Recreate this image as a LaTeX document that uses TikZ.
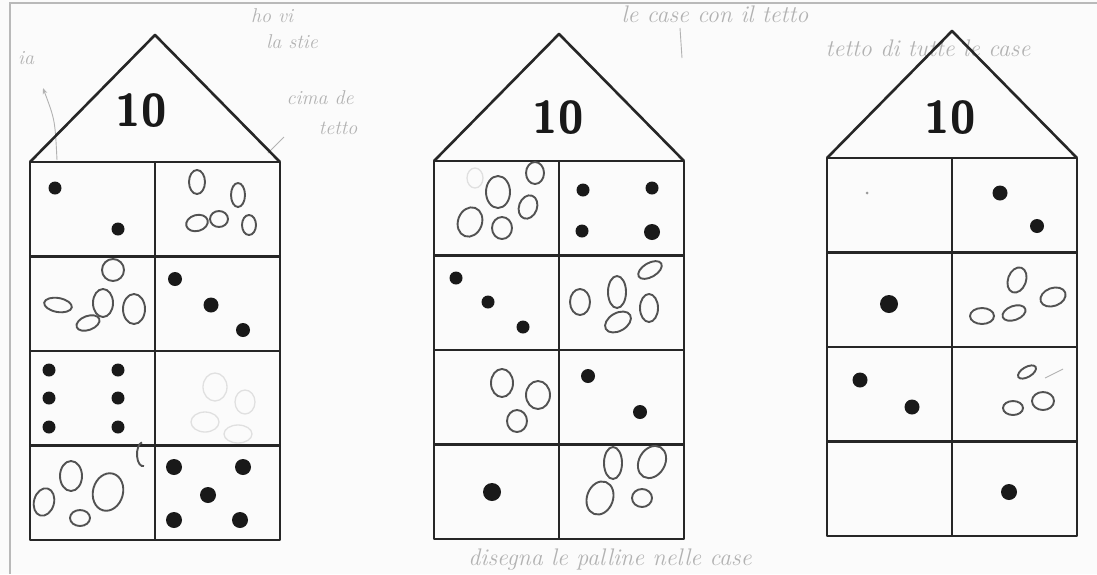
\documentclass[tikz,border=0pt]{standalone}
\usetikzlibrary{arrows.meta}
\tikzset{
  wall/.style={draw=black!85, line width=2.6pt, line join=round},
  gridline/.style={draw=black!85, line width=2.3pt},
  counter/.style={fill=black!90, draw=none},
  ring/.style={draw=black!68, line width=1.9pt},
  faintring/.style={draw=black!12, line width=1.3pt},
  roofnum/.style={font=\sffamily\bfseries\fontsize{46}{46}\selectfont, inner sep=0pt, text=black!90},
  pencil/.style={text=black!30, font=\itshape\fontsize{24}{24}\selectfont, inner sep=0pt},
  pencilline/.style={draw=black!30, line width=0.9pt}
}
% one number house: #1 node name, #2 position of the number, #3 number
\newcommand{\numberhouse}[3]{
  \draw[wall] (0,0) rectangle (250,378);
  \draw[wall] (0,0) -- (125,-127) -- (250,0);
  \foreach \r in {1,2,3} \draw[gridline] (0,\r*94.5) -- (250,\r*94.5);
  \draw[gridline] (125,0) -- (125,378);
  \node[roofnum] (#1) at #2 {#3};
}
\newcommand{\counterat}[2]{\fill[counter] #1 circle (#2pt);}
\newcommand{\ringat}[4]{\draw[ring, rotate around={#4:#1}] #1 ellipse (#2pt and #3pt);}

\begin{document}
\begin{tikzpicture}[x=1pt, y=-1pt]
  \useasboundingbox (0,0) rectangle (1097,574);
  \fill[gray!3] (0,0) rectangle (1097,574);
  \draw[gray!55, line width=2pt] (10,574) -- (10,3) -- (1097,3);

  % pencil notes
  \node[pencil, font=\itshape\fontsize{20}{20}\selectfont] (noteia) at (26,58) {ia};
  \draw[pencilline, -{Stealth[length=6pt]}] (57,160) .. controls (55,120) .. (43,88);
  \node[pencil, font=\itshape\fontsize{20}{20}\selectfont] (notetop) at (272,16) {ho vi};
  \node[pencil, font=\itshape\fontsize{20}{20}\selectfont] (notestie) at (292,42) {la stie};
  \node[pencil, font=\itshape\fontsize{20}{20}\selectfont] (notecima) at (320,98) {cima de};
  \node[pencil, font=\itshape\fontsize{20}{20}\selectfont] (notetetto) at (338,128) {tetto};
  \draw[pencilline] (268,153) -- (284,137);
  \node[pencil] (notecase) at (715,14) {le case con il tetto};
  \draw[pencilline] (680,28) -- (682,58);
  \node[pencil] (noteroofs) at (928,48) {tetto di tutte le case};
  \node[pencil] (notebottom) at (610,560) {disegna le palline nelle case};

  % first house
  \begin{scope}[shift={(30,162)}]
    \numberhouse{numa}{(111,-51)}{10}
    \counterat{(25,26)}{6.5} \counterat{(88,67)}{6.5}
    \ringat{(167,20)}{8}{12}{0} \ringat{(208,33)}{7}{12}{0}
    \ringat{(167,61)}{11}{8}{15} \ringat{(189,57)}{9}{8}{0} \ringat{(219,63)}{7}{10}{0}
    \ringat{(83,108)}{11}{11}{0} \ringat{(28,143)}{14}{7}{-10}
    \ringat{(58,161)}{12}{7}{20} \ringat{(73,141)}{10}{14}{0} \ringat{(104,147)}{11}{15}{0}
    \counterat{(145,117)}{7} \counterat{(181,143)}{7.5} \counterat{(213,168)}{7}
    \foreach \cy in {208,236,265} {
      \counterat{(19,\cy)}{6.5} \counterat{(88,\cy)}{6.5}
    }
    \draw[faintring] (185,225) ellipse (12pt and 14pt);
    \draw[faintring] (215,240) ellipse (10pt and 12pt);
    \draw[faintring] (175,260) ellipse (14pt and 10pt);
    \draw[faintring] (208,272) ellipse (14pt and 9pt);
    \ringat{(41,314)}{11}{15}{0} \ringat{(78,330)}{15}{19}{-15}
    \ringat{(14,340)}{10}{14}{-15} \ringat{(50,356)}{10}{8}{0}
    \draw[ring] (114,304) arc[start angle=-80, end angle=-260, x radius=6pt, y radius=12pt];
    \counterat{(144,305)}{8} \counterat{(213,305)}{8} \counterat{(178,333)}{8}
    \counterat{(144,358)}{8} \counterat{(210,358)}{8}
  \end{scope}

  % second house
  \begin{scope}[shift={(434,161)}]
    \numberhouse{numb}{(124,-43)}{10}
    \draw[faintring] (41,17) ellipse (8pt and 10pt);
    \ringat{(101,12)}{9}{11}{0} \ringat{(64,31)}{12}{16}{0} \ringat{(94,46)}{9}{12}{-20}
    \ringat{(36,61)}{12}{15}{-20} \ringat{(68,67)}{10}{11}{0}
    \counterat{(149,29)}{6.5} \counterat{(218,27)}{6.5}
    \counterat{(148,70)}{6.5} \counterat{(218,71)}{8}
    \counterat{(22,117)}{6.5} \counterat{(54,141)}{6.5} \counterat{(89,166)}{6.5}
    \ringat{(216,109)}{13}{7}{30} \ringat{(146,141)}{10}{13}{0} \ringat{(183,131)}{9}{16}{0}
    \ringat{(184,161)}{14}{9}{30} \ringat{(215,147)}{9}{14}{0}
    \ringat{(68,222)}{11}{14}{0} \ringat{(104,234)}{12}{14}{0} \ringat{(83,260)}{10}{11}{0}
    \counterat{(154,215)}{7} \counterat{(206,251)}{7}
    \counterat{(58,331)}{9}
    \ringat{(179,302)}{9}{16}{0} \ringat{(218,301)}{13}{17}{-30}
    \ringat{(166,337)}{13}{17}{-20} \ringat{(208,337)}{10}{9}{0}
  \end{scope}

  % third house
  \begin{scope}[shift={(827,158)}]
    \numberhouse{numc}{(123,-40)}{10}
    \fill[black!40] (40,35) circle (1.5pt);
    \counterat{(173,35)}{7.5} \counterat{(210,68)}{7}
    \counterat{(62,146)}{9}
    \ringat{(190,122)}{9}{13}{-20} \ringat{(226,139)}{13}{9}{20}
    \ringat{(155,158)}{12}{8}{0} \ringat{(187,155)}{12}{7}{20}
    \counterat{(33,222)}{7.5} \counterat{(85,249)}{7.5}
    \ringat{(200,214)}{10}{5}{30} \ringat{(216,243)}{11}{9}{0} \ringat{(186,250)}{10}{7}{0}
    \draw[pencilline] (218,220) -- (236,211);
    \counterat{(182,334)}{8}
  \end{scope}
\end{tikzpicture}
\end{document}
